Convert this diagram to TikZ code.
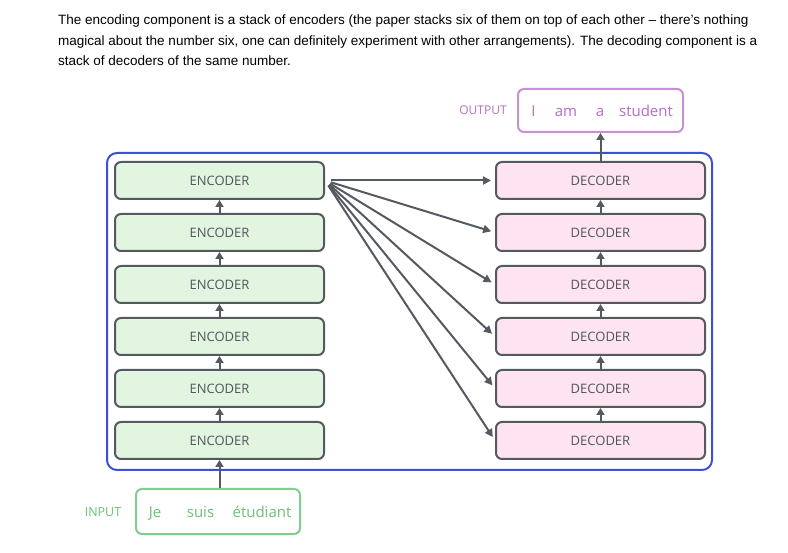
\documentclass[tikz,border=0pt]{standalone}
\usepackage{fontspec}
\setmainfont{Open Sans}
\newfontfamily\parafont{Liberation Sans}
\usetikzlibrary{arrows.meta}
\definecolor{encfill}{HTML}{E2F5E0}
\definecolor{decfill}{HTML}{FDE4F0}
\definecolor{boxline}{HTML}{555A60}
\definecolor{framecol}{HTML}{3B4FD9}
\definecolor{outline}{HTML}{C690D2}
\definecolor{outtext}{HTML}{B76CC8}
\definecolor{inline}{HTML}{84CC8E}
\definecolor{intext}{HTML}{6EBF78}
\definecolor{textcol}{HTML}{50555A}
\begin{document}
\begin{tikzpicture}[x=1pt,y=-1pt,
  encbox/.style={draw=boxline,line width=2pt,fill=encfill,rounded corners=6pt,minimum width=209pt,minimum height=37pt,inner sep=0pt,text=textcol,font=\fontsize{13}{15}\selectfont},
  decbox/.style={encbox,fill=decfill},
  conn/.style={draw=boxline,line width=2pt,-{Triangle[width=8pt,length=8pt]}},
  small/.style={draw=boxline,line width=2pt,-{Triangle[width=8pt,length=7pt]}},
  inword/.style={text=intext,anchor=base,inner sep=0pt,font=\fontsize{15}{18}\selectfont},
  outword/.style={text=outtext,anchor=base,inner sep=0pt,font=\fontsize{15}{18}\selectfont},
]
\useasboundingbox (0,0) rectangle (788,553);
\fill[white] (0,0) rectangle (788,553);
% paragraph
\node[anchor=north west,inner sep=0pt,align=left,font=\parafont\fontsize{13.5}{20.5}\selectfont,text=black] (para) at (58,15)
{The encoding component is a stack of encoders (the paper stacks six of them on top of each other – there’s nothing\\
magical about the number six, one can definitely experiment with other arrangements). The decoding component is a\\
stack of decoders of the same number.};
% frame
\draw[framecol,line width=2pt,rounded corners=10pt] (107,153) rectangle (712,470);
% encoders and decoders
\foreach \i in {1,...,6}{
  \node[encbox] (e\i) at (219.5,{180.5+52*(\i-1)}) {ENCODER};
  \node[decbox] (d\i) at (600.5,{180.5+52*(\i-1)}) {DECODER};
}
\foreach \i/\j in {2/1,3/2,4/3,5/4,6/5}{
  \draw[small] (e\i.north) -- (e\j.south);
  \draw[small] (d\i.north) -- (d\j.south);
}
\foreach \i in {1,...,6}{
  \draw[conn,shorten <=6pt,shorten >=4pt] (e1.east) -- (d\i.west);
}
% input
\node[draw=inline,line width=2pt,rounded corners=6pt,minimum width=164pt,minimum height=45pt,inner sep=0pt] (inbox) at (218,511.5) {};
\node[inword] (w1) at (155,517.5) {Je};
\node[inword] (w2) at (200.5,517.5) {suis};
\node[inword] (w3) at (262,517.5) {étudiant};
\node[text=intext,anchor=base,inner sep=0pt,font=\fontsize{12.5}{14}\selectfont] (inlab) at (103,516.5) {INPUT};
\coordinate (inarr) at (e6.south |- inbox.north);
\draw[small] (inarr) -- (e6.south);
% output
\node[draw=outline,line width=2pt,rounded corners=6pt,minimum width=165pt,minimum height=43pt,inner sep=0pt] (outbox) at (600.5,110.5) {};
\node[outword] (o1) at (533.5,116.5) {I};
\node[outword] (o2) at (566,116.5) {am};
\node[outword] (o3) at (600,116.5) {a};
\node[outword] (o4) at (646,116.5) {student};
\node[text=outtext,anchor=base,inner sep=0pt,font=\fontsize{12}{14}\selectfont] (outlab) at (483,114.5) {OUTPUT};
\draw[small] (d1.north) -- (outbox.south);
\end{tikzpicture}
\end{document}
